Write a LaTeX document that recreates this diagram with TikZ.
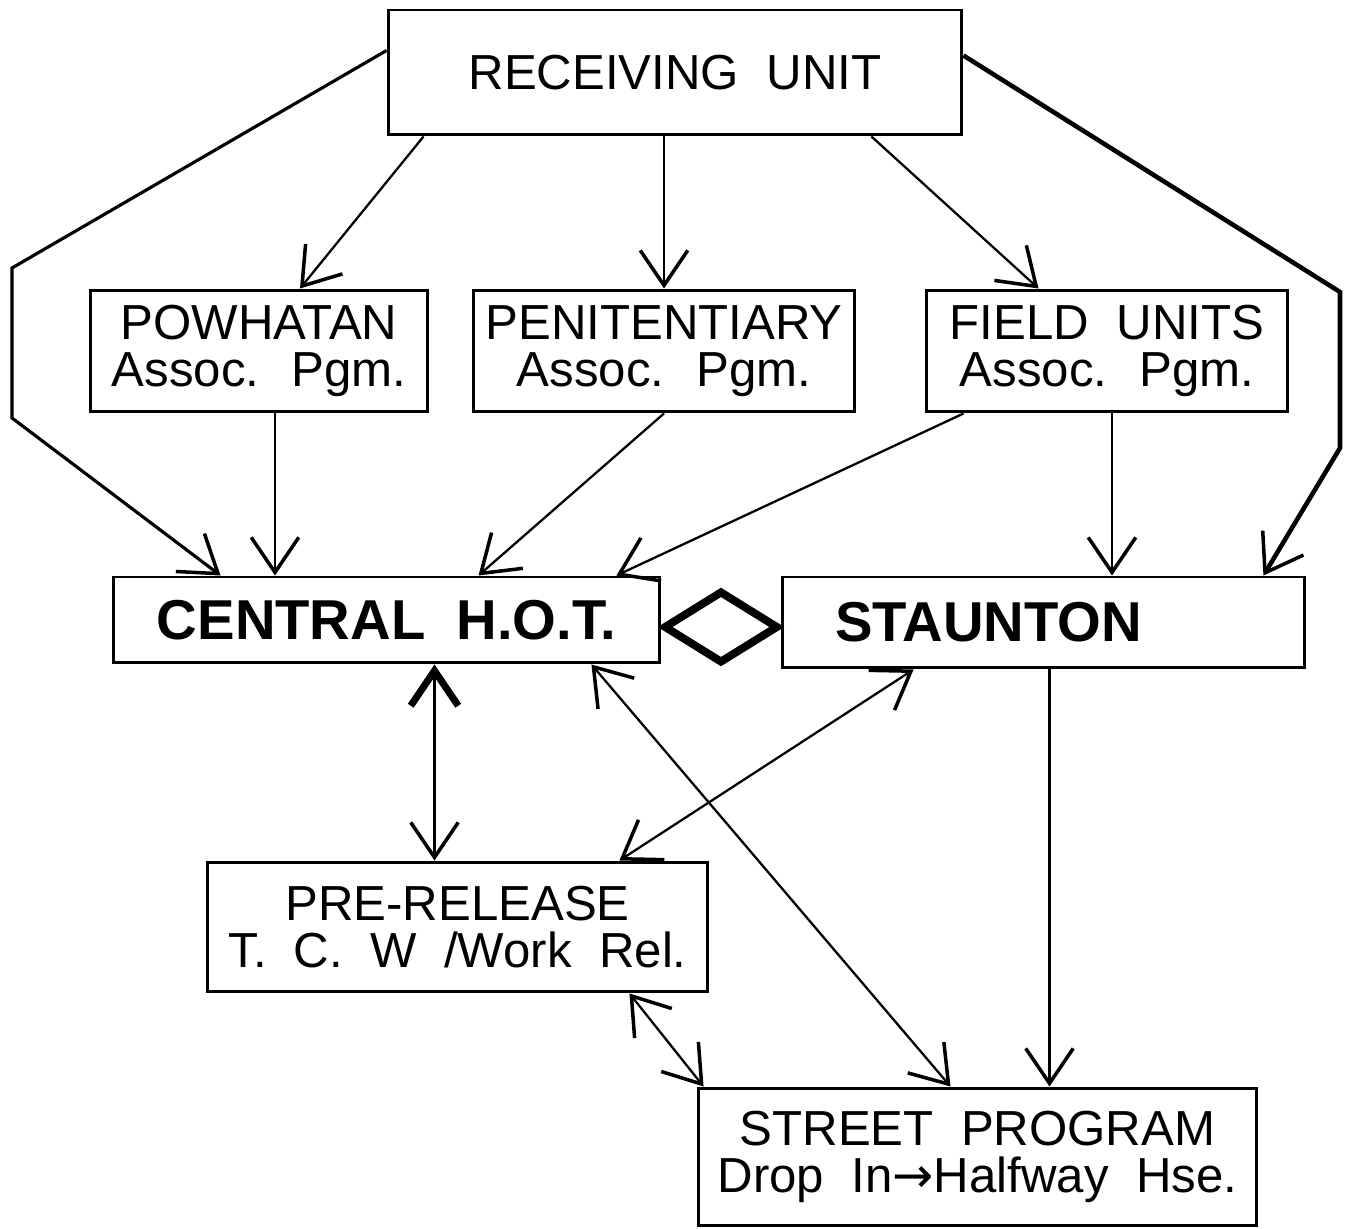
\documentclass[tikz,border=0pt]{standalone}
\usepackage{fontspec}
\setmainfont{Liberation Sans}[WordSpace=2]
\newfontfamily\arrowfont{DejaVu Sans}
\usetikzlibrary{arrows.meta, calc, shapes.geometric}

\begin{document}
\begin{tikzpicture}[x=0.02cm, y=-0.02cm,
    >={Straight Barb[length=0.7cm, width=0.95cm, line width=2pt]},
    box/.style={draw, line width=1.7pt, inner sep=0pt, align=center,
      font=\fontsize{28}{27}\selectfont},
    boldbox/.style={box, font=\fontsize{32}{32}\selectfont\bfseries},
    link/.style={line width=1.3pt}]
    \useasboundingbox (0,0) rectangle (1350,1229);

    % Boxes
    \node[box, minimum width=11.48cm, minimum height=2.5cm] (recv) at (675,72.5) {RECEIVING UNIT};
    \node[box, minimum width=6.76cm, minimum height=2.44cm] (powh) at (259,351) {POWHATAN\\Assoc. Pgm.};
    \node[box, minimum width=7.64cm, minimum height=2.44cm] (peni) at (664,351) {PENITENTIARY\\Assoc. Pgm.};
    \node[box, minimum width=7.24cm, minimum height=2.44cm] (field) at (1107,351) {FIELD UNITS\\Assoc. Pgm.};
    \node[boldbox, minimum width=10.94cm, minimum height=1.72cm] (central) at (386.5,620) {CENTRAL H.O.T.};
    \node[boldbox, align=left, text width=8.34cm, inner xsep=1.06cm, minimum height=1.82cm] (staun) at (1043.5,622.5) {STAUNTON};
    \node[box, minimum width=10.02cm, minimum height=2.6cm] (prerel) at (457.5,927) {PRE-RELEASE\\T. C. W /Work Rel.};
    \node[box, minimum width=11.18cm, minimum height=2.76cm] (street) at (977.5,1157) {STREET PROGRAM\\Drop In{\arrowfont→}Halfway Hse.};

    % Exchange between Central and Staunton
    \node[diamond, draw, line width=4.5pt, inner sep=0pt, minimum width=2.3cm, minimum height=1.45cm] (swap) at (721,627) {};

    % Outer routes from Receiving
    \coordinate (lbendA) at (12,268);
    \coordinate (lbendB) at (12,418);
    \coordinate (rbendA) at (1340,292);
    \coordinate (rbendB) at (1340,448);
    \draw[link, line width=1.8pt, ->] ($(recv.west)+(0,-22)$) -- (lbendA) -- (lbendB) -- ($(central.north west)+(109,0)$);
    \draw[link, line width=2.6pt, ->] ($(recv.east)+(0,-17)$) -- (rbendA) -- (rbendB) -- ($(staun.north east)+(-43,0)$);

    % Receiving to the associate programs
    \draw[link, ->] ($(recv.south west)+(37,0)$) -- ($(powh.north)+(41,0)$);
    \draw[link, ->] (peni.north |- recv.south) -- (peni.north);
    \draw[link, ->] ($(recv.south east)+(-92,0)$) -- ($(field.north west)+(114,0)$);

    % Associate programs to Central and Staunton
    \coordinate (powhout) at ($(powh.south)+(16,0)$);
    \coordinate (fieldout) at ($(field.south)+(5,0)$);
    \draw[link, ->] (powhout) -- (powhout |- central.north);
    \draw[link, ->] (peni.south) -- ($(central.north)+(92,0)$);
    \draw[link, ->] ($(field.south west)+(39,0)$) -- ($(central.north east)+(-45,0)$);
    \draw[link, ->] (fieldout) -- (fieldout |- staun.north);

    % Central and Staunton to release
    \coordinate (centralout) at ($(central.south)+(48,0)$);
    \coordinate (staunout) at ($(staun.south)+(6,0)$);
    \draw[link, {Straight Barb[length=0.7cm, width=0.95cm, line width=4pt]}->] (centralout) -- (centralout |- prerel.north);
    \draw[link, <->] ($(central.south east)+(-70,0)$) -- ($(street.north)+(-27,0)$);
    \draw[link, <->] ($(staun.south west)+(133,0)$) -- ($(prerel.north east)+(-90,0)$);
    \draw[link, ->] (staunout) -- (staunout |- street.north);
    \draw[link, <->] ($(prerel.south east)+(-80,0)$) -- ($(street.north west)+(7,0)$);
\end{tikzpicture}
\end{document}
